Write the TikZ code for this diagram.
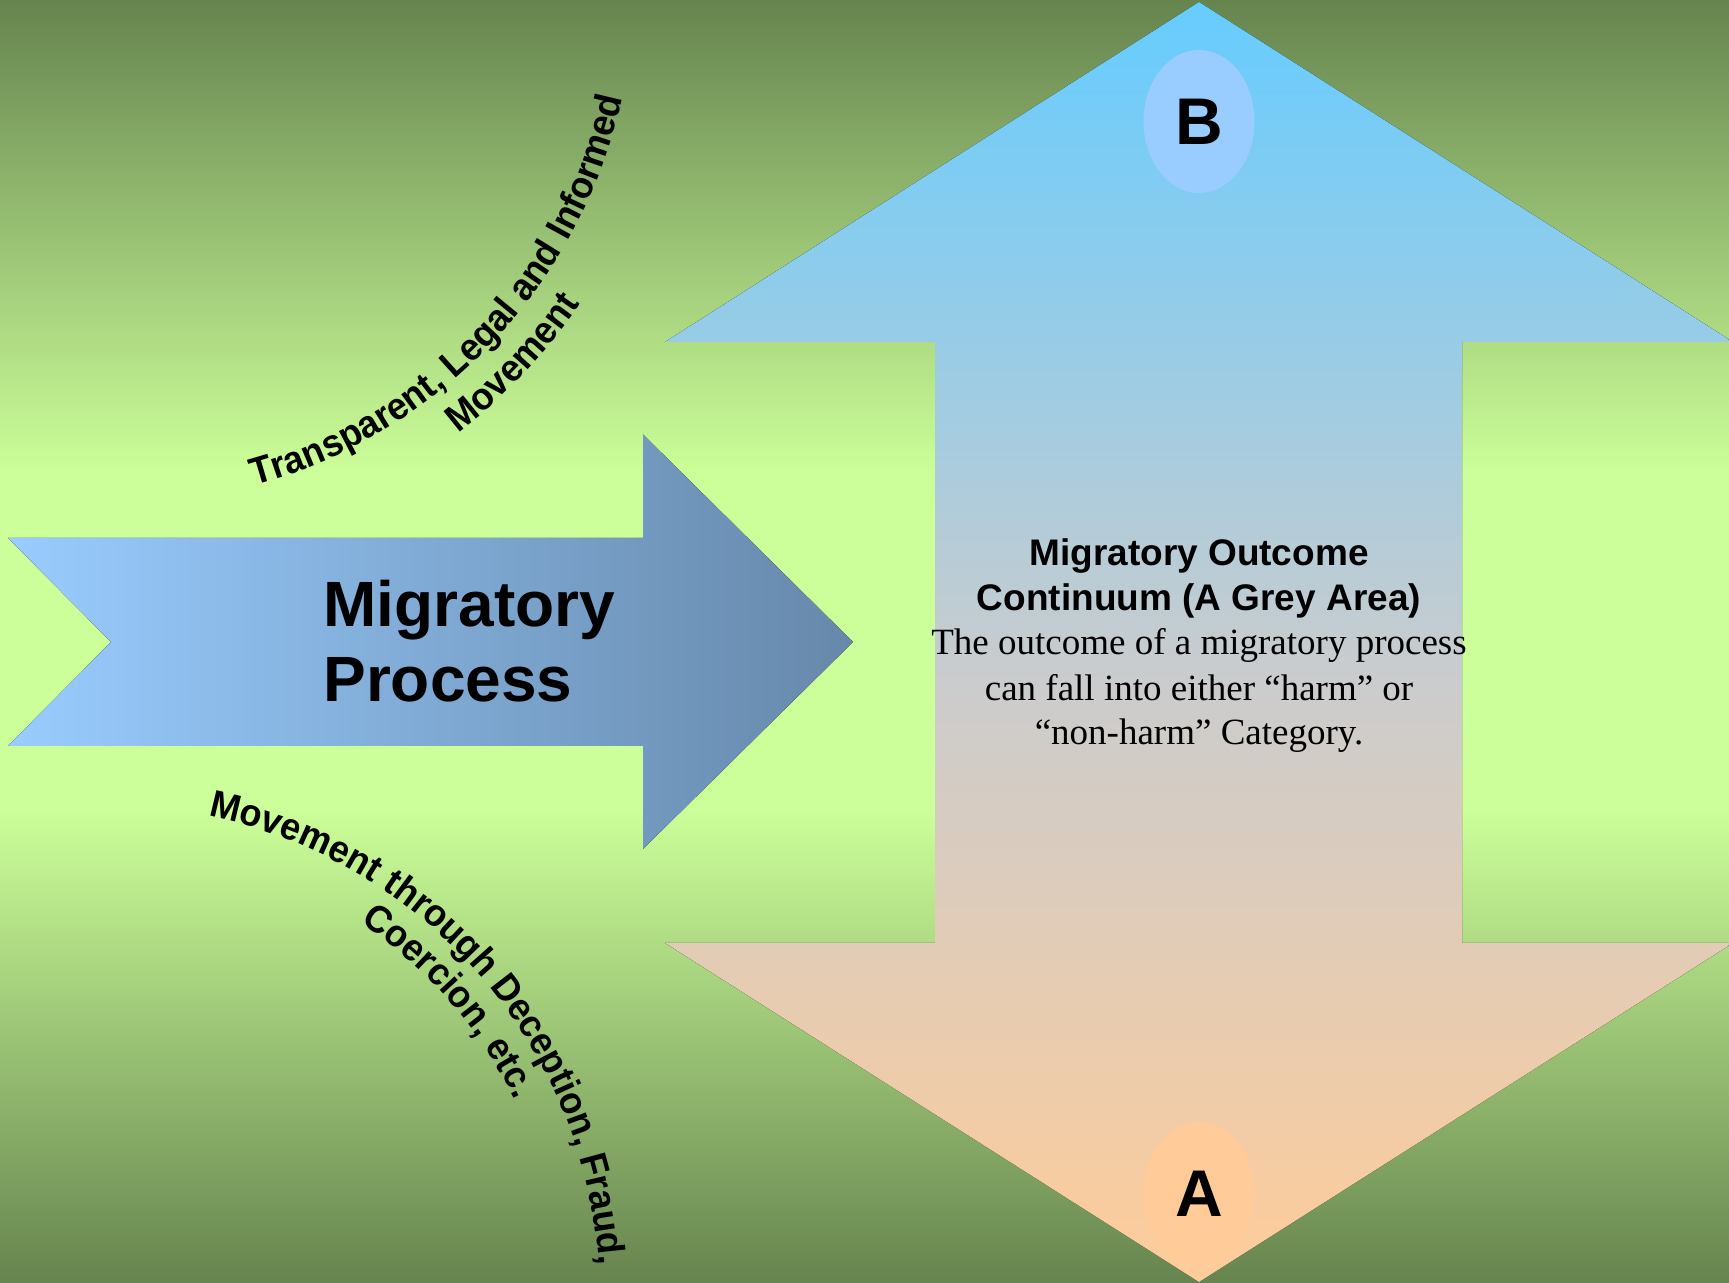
\documentclass[tikz,border=0pt]{standalone}
\usepackage{fontspec}
\setmainfont{Liberation Serif}
\setsansfont{Liberation Sans}
\newfontfamily\archfamily{Liberation Sans}[FakeStretch=0.95]
\usetikzlibrary{shapes.geometric,decorations.text}

\definecolor{bgdark}{HTML}{66844F}
\definecolor{bglight}{HTML}{CCFF99}
\definecolor{skyblue}{HTML}{66CCFF}
\definecolor{midgrey}{HTML}{CCCCCC}
\definecolor{peach}{HTML}{FFCC99}
\definecolor{paleblue}{HTML}{99CCFF}
\definecolor{slateblue}{HTML}{6688AA}

% dark - light - dark backdrop (the path box maps to 25bp..75bp)
\pgfdeclareverticalshading{meadow}{100bp}{%
  color(0bp)=(bgdark); color(25bp)=(bgdark); color(43.5bp)=(bglight);
  color(56.5bp)=(bglight); color(75bp)=(bgdark); color(100bp)=(bgdark)}
% blue - grey - peach fill of the continuum arrow
\pgfdeclareverticalshading{continuum}{100bp}{%
  color(0bp)=(peach); color(25bp)=(peach); color(48bp)=(midgrey);
  color(75bp)=(skyblue); color(100bp)=(skyblue)}

\newcommand\curvedfont{\archfamily\bfseries\fontsize{19}{23}\selectfont}

\begin{document}
\begin{tikzpicture}[x=0.5pt,y=0.5pt,
  bigtitle/.style={inner sep=0, anchor=base west,
    font=\sffamily\bfseries\fontsize{32}{38}\selectfont},
  oval/.style={ellipse, inner sep=0, minimum width=55.5pt, minimum height=71.5pt,
    font=\sffamily\bfseries\fontsize{33}{40}\selectfont},
  headline/.style={inner sep=0, anchor=base,
    font=\sffamily\bfseries\fontsize{18.5}{22}\selectfont},
  bodyline/.style={inner sep=0, anchor=base,
    font=\rmfamily\fontsize{18.5}{22}\selectfont},
  curved/.style={decorate, decoration={text along path, text align=center, text={|\curvedfont|#1}}}]

\useasboundingbox (0,0) rectangle (1729,1283);
\clip (0,0) rectangle (1729,1283);

% backdrop
\fill[shading=meadow] (0,0) rectangle (1729,1283);

% double-headed continuum arrow
\fill[shading=continuum]
  (1199,1281) -- (1733,941) -- (1462,941) -- (1462,340) -- (1733,340)
  -- (1199,1) -- (665,340) -- (935,340) -- (935,941) -- (665,941) -- cycle;

% notched process arrow
\fill[left color=paleblue, right color=slateblue]
  (8,745) -- (643,745) -- (643,848.5) -- (853,641) -- (643,434)
  -- (643,537) -- (8,537) -- (111,641) -- cycle;

\node[bigtitle] (procA) at (323,656) {Migratory};
\node[bigtitle] (procB) at (323,581) {Process};

% end points of the continuum
\node[oval, fill=paleblue] (ovalB) at (1199,1161.5) {B};
\node[oval, fill=peach] (ovalA) at (1199,89.5) {A};

% continuum description
\node[headline] (head1) at (1199,717.3) {Migratory Outcome};
\node[headline] (head2) at (1199,672.1) {Continuum (A Grey Area)};
\node[bodyline] (body1) at (1199,628) {The outcome of a migratory process};
\node[bodyline] (body2) at (1199,582.8) {can fall into either “harm” or};
\node[bodyline] (body3) at (1199,538.7) {“non-harm” Category.};

% arched captions
\path[curved={Transparent, Legal and Informed}]
  (118,1295) ++(-82:516) arc[start angle=-82, end angle=-5, radius=516];
\path[curved={Movement}]
  (118,1295) ++(-82:560) arc[start angle=-82, end angle=-5, radius=560];
\path[curved={Movement through Deception, Fraud,}]
  (109,-14) ++(80:491) arc[start angle=80, end angle=2, radius=491];
\path[curved={Coercion, etc.}]
  (109,-14) ++(80:451) arc[start angle=80, end angle=2, radius=451];
\end{tikzpicture}
\end{document}
